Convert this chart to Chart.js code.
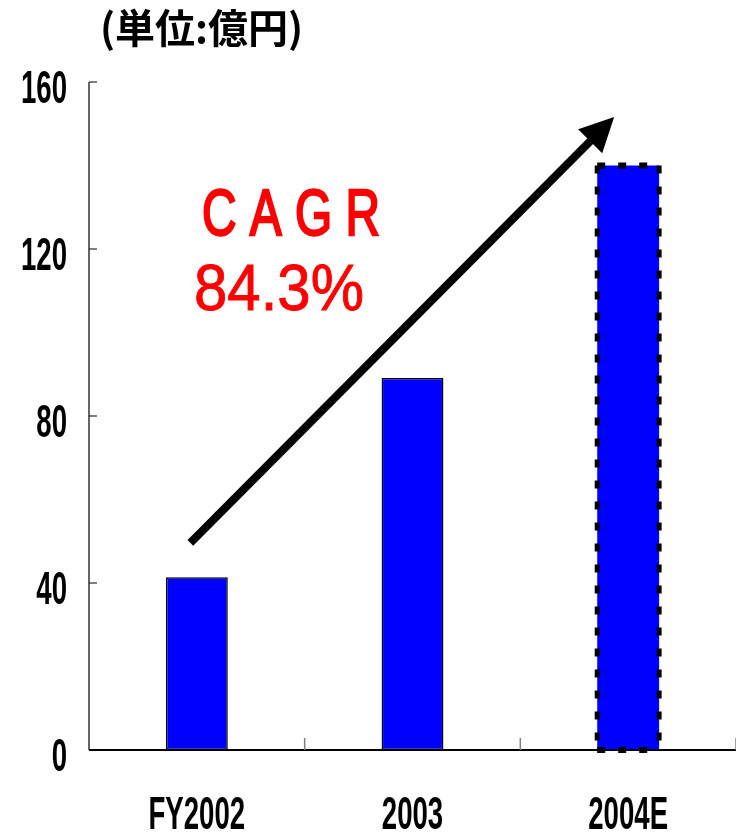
<html lang="ja">
<head>
<meta charset="UTF-8">
<title>売上推移</title>
<script src="https://cdn.jsdelivr.net/npm/chart.js"></script>
<style>
  body { margin: 0; padding: 0; background: #fff; }
  #salesChart { display: block; }
</style>
</head>
<body>
<canvas id="salesChart" width="736" height="832"></canvas>
<script>
  // 値は図から読み取ったもの
  const categories = ['FY2002', '2003', '2004E'];
  const sales = [41.4, 89.1, 140];
  const yTicks = [0, 40, 80, 120, 160];
  const unitLabel = '(単位:億円)';
  const cagrLines = ['C A G R', '84.3%'];

  const LABEL_FONT = 'bold 46px "Liberation Sans", Arial, sans-serif';

  function squeezeText(ctx, text, x, y, sx, align, stroke) {
    ctx.save();
    ctx.translate(x, y);
    ctx.scale(sx, 1);
    ctx.textAlign = align;
    ctx.fillText(text, 0, 0);
    if (stroke) {
      ctx.lineWidth = stroke;
      ctx.strokeText(text, 0, 0);
    }
    ctx.restore();
  }

  function fitText(ctx, text, x, y, width, stroke) {
    const w = ctx.measureText(text).width;
    squeezeText(ctx, text, x, y, width / w, 'left', stroke);
  }

  const decorPlugin = {
    id: 'decor',
    afterDatasetsDraw(chart) {
      const ctx = chart.ctx;
      const xs = chart.scales.x;
      const ys = chart.scales.y;
      const area = chart.chartArea;

      // 2004E は見込みなので点線枠
      const bar = chart.getDatasetMeta(0).data[2];
      const l = bar.x - bar.width / 2, r = bar.x + bar.width / 2;
      const t = bar.y, b = bar.base;
      ctx.save();
      ctx.strokeStyle = '#000';
      ctx.setLineDash([8, 13]);
      [[l, t, r, t, 6], [l, b, r, b, 6], [l, t, l, b, 5], [r, t, r, b, 5]].forEach(s => {
        ctx.lineWidth = s[4];
        ctx.beginPath();
        ctx.moveTo(s[0], s[1]);
        ctx.lineTo(s[2], s[3]);
        ctx.stroke();
      });
      ctx.restore();

      // 軸
      ctx.save();
      ctx.strokeStyle = '#000';
      ctx.lineWidth = 1.2;
      ctx.beginPath();
      ctx.moveTo(area.left, area.top);
      ctx.lineTo(area.left, area.bottom);
      yTicks.forEach(v => {
        const py = ys.getPixelForValue(v);
        ctx.moveTo(area.left, py);
        ctx.lineTo(area.left + 8, py);
      });
      ctx.stroke();
      ctx.lineWidth = 2;
      ctx.beginPath();
      ctx.moveTo(area.left, area.bottom);
      ctx.lineTo(area.right, area.bottom);
      ctx.stroke();
      ctx.strokeStyle = '#808080';
      ctx.lineWidth = 1.5;
      ctx.beginPath();
      categories.forEach((c, i) => {
        const px = xs.getPixelForValue(i + 0.5);
        ctx.moveTo(px, area.bottom);
        ctx.lineTo(px, area.bottom - 12);
      });
      ctx.stroke();
      ctx.restore();

      // 目盛りラベル
      ctx.save();
      ctx.fillStyle = '#000';
      ctx.font = LABEL_FONT;
      ctx.textBaseline = 'alphabetic';
      yTicks.forEach(v => {
        squeezeText(ctx, String(v), 67, ys.getPixelForValue(v) + 21, 0.6, 'right');
      });
      categories.forEach((c, i) => {
        squeezeText(ctx, c, xs.getPixelForValue(i), 829, 0.6, 'center');
      });

      // 単位
      ctx.font = 'bold 40px "Noto Sans CJK JP", sans-serif';
      ctx.textBaseline = 'middle';
      ctx.textAlign = 'left';
      ctx.fillText(unitLabel, 100, 28);
      ctx.restore();

      // CAGR
      ctx.save();
      ctx.fillStyle = '#ff0000';
      ctx.strokeStyle = '#ff0000';
      ctx.font = '64px "Liberation Sans", Arial, sans-serif';
      ctx.textBaseline = 'alphabetic';
      fitText(ctx, cagrLines[0], 202, 235, 178, 2.4);
      fitText(ctx, cagrLines[1], 194, 310, 170, 0.9);
      ctx.restore();

      // 矢印
      const x0 = xs.getPixelForValue(-0.03), y0 = ys.getPixelForValue(49.6);
      const x1 = xs.getPixelForValue(1.935), y1 = ys.getPixelForValue(151.6);
      const ang = Math.atan2(y1 - y0, x1 - x0);
      const headLen = 34, headHalf = 17;
      const bx = x1 - headLen * Math.cos(ang), by = y1 - headLen * Math.sin(ang);
      ctx.save();
      ctx.strokeStyle = '#000';
      ctx.fillStyle = '#000';
      ctx.lineWidth = 8;
      ctx.beginPath();
      ctx.moveTo(x0, y0);
      ctx.lineTo(bx + 4 * Math.cos(ang), by + 4 * Math.sin(ang));
      ctx.stroke();
      ctx.beginPath();
      ctx.moveTo(x1, y1);
      ctx.lineTo(bx + headHalf * Math.sin(ang), by - headHalf * Math.cos(ang));
      ctx.lineTo(bx - headHalf * Math.sin(ang), by + headHalf * Math.cos(ang));
      ctx.closePath();
      ctx.fill();
      ctx.restore();
    }
  };

  new Chart(document.getElementById('salesChart'), {
    type: 'bar',
    data: {
      labels: categories,
      datasets: [{
        data: sales,
        backgroundColor: '#0000ff',
        borderColor: ['#000000', '#000000', 'rgba(0,0,0,0)'],
        borderWidth: [1.5, 1.5, 0],
        borderSkipped: false,
        categoryPercentage: 1,
        barPercentage: 0.287
      }]
    },
    options: {
      responsive: false,
      animation: false,
      layout: { padding: { top: 82, left: 0, right: 0, bottom: 0 } },
      plugins: { legend: { display: false }, tooltip: { enabled: false } },
      scales: {
        x: {
          grid: { display: false },
          border: { display: false },
          ticks: { display: false },
          afterFit: s => { s.height = 82; }
        },
        y: {
          min: 0,
          max: 160,
          ticks: { display: false, stepSize: 40 },
          grid: { display: false },
          border: { display: false },
          afterFit: s => { s.width = 89; }
        }
      }
    },
    plugins: [decorPlugin]
  });
</script>
</body>
</html>
